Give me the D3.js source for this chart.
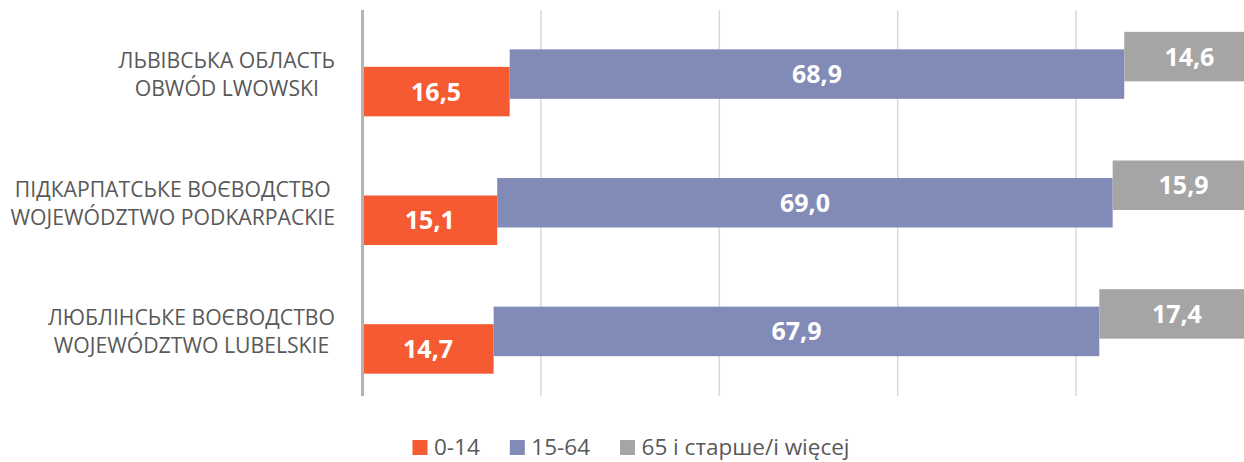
<!DOCTYPE html>
<html>
<head>
<meta charset="utf-8">
<script src="https://cdn.jsdelivr.net/npm/d3@7"></script>
<style>
  body { margin: 0; background: #fff; overflow: hidden; }
  svg { display: block; font-family: "Open Sans", sans-serif; }
</style>
</head>
<body>
<svg id="chart" width="1244" height="462"></svg>
<script>
// region labels, two lines each (ukrainian / polish)
const regions = [
    ["ЛЬВІВСЬКА ОБЛАСТЬ", "OBWÓD LWOWSKI"],
    ["ПІДКАРПАТСЬКЕ ВОЄВОДСТВО", "WOJEWÓDZTWO PODKARPACKIE"],
    ["ЛЮБЛІНСЬКЕ ВОЄВОДСТВО", "WOJEWÓDZTWO LUBELSKIE"]
];
const ageGroups = ["0-14", "15-64", "65 і старше/i więcej"];
const colors = ["#f55a32", "#828bb8", "#a5a5a5"];

// shares in %, one array per age group, same order as regions
const young = [16.5, 15.1, 14.7];
const working = [68.9, 69.0, 67.9];
const old = [14.6, 15.9, 17.4];
const gridTicks = [0, 20, 40, 60, 80, 100];

const svg = d3.select("#chart");
const fmt = d3.formatLocale({decimal: ",", thousands: " ", grouping: [3], currency: ["", ""]}).format(".1f");

const x = d3.scaleLinear([0, 100], [362.5, 1254.5]);
const y = d3.scaleBand(d3.range(regions.length), [10, 396]);
// every segment sits a bit higher than the previous one
const shift = d3.scalePoint([2, 1, 0], [-42.5, -7.5]);
const barH = 49.5;

// gridlines
svg.append("g").selectAll("line")
    .data(gridTicks.slice(1))
    .join("line")
    .attr("x1", d => x(d)).attr("x2", d => x(d))
    .attr("y1", 10).attr("y2", 396)
    .attr("stroke", "#d9d9d9")
    .attr("stroke-width", 1.5);

// build stacked segments
const series = [young, working, old];
const segs = [];
regions.forEach((r, i) => {
    let start = 0;
    series.forEach((s, k) => {
        segs.push({i: i, k: k, x0: start, x1: start + s[i], v: s[i]});
        start += s[i];
    });
});

const mid = i => y(i) + y.bandwidth() / 2;

svg.append("g").selectAll("rect")
    .data(segs)
    .join("rect")
    .attr("x", d => x(d.x0))
    .attr("width", d => x(d.x1) - x(d.x0))
    .attr("y", d => mid(d.i) + shift(d.k))
    .attr("height", barH)
    .attr("fill", d => colors[d.k]);

svg.append("g").selectAll("text")
    .data(segs)
    .join("text")
    .attr("x", d => (x(d.x0) + x(d.x1)) / 2)
    .attr("y", d => mid(d.i) + shift(d.k) + barH / 2)
    .attr("dy", "0.36em")
    .attr("text-anchor", "middle")
    .attr("fill", "#fff")
    .attr("font-weight", "bold")
    .attr("font-size", 25)
    .text(d => fmt(d.v));

// vertical axis line
svg.append("line")
    .attr("x1", x(0)).attr("x2", x(0))
    .attr("y1", 10).attr("y2", 396)
    .attr("stroke", "#b4b4b4")
    .attr("stroke-width", 3);

// category labels: lines centred within the block, block right aligned
const labelRight = 335;
regions.forEach((lines, i) => {
    const g = svg.append("g");
    const t = g.selectAll("text")
        .data(lines)
        .join("text")
        .attr("y", (d, j) => mid(i) + (j - 0.5) * 28)
        .attr("dy", "0.36em")
        .attr("text-anchor", "middle")
        .attr("fill", "#595959")
        .attr("font-size", 21.2)
        .text(d => d);
    let w = 0;
    t.each(function() { w = Math.max(w, this.getComputedTextLength()); });
    t.attr("x", labelRight - w / 2);
});

// legend (kept a bit higher so descenders stay inside the picture)
const legend = svg.append("g");
let lx = 0;
ageGroups.forEach((name, k) => {
    const item = legend.append("g").attr("transform", `translate(${lx},0)`);
    item.append("rect")
        .attr("x", 0).attr("y", 440)
        .attr("width", 15).attr("height", 15)
        .attr("fill", colors[k]);
    const txt = item.append("text")
        .attr("x", 21.5).attr("y", 455)
        .attr("fill", "#595959")
        .attr("font-size", 22.5)
        .text(name);
    lx += 21.5 + txt.node().getComputedTextLength() + 30;
});
const legendW = lx - 30;
legend.attr("transform", `translate(${631 - legendW / 2},0)`);
</script>
</body>
</html>
